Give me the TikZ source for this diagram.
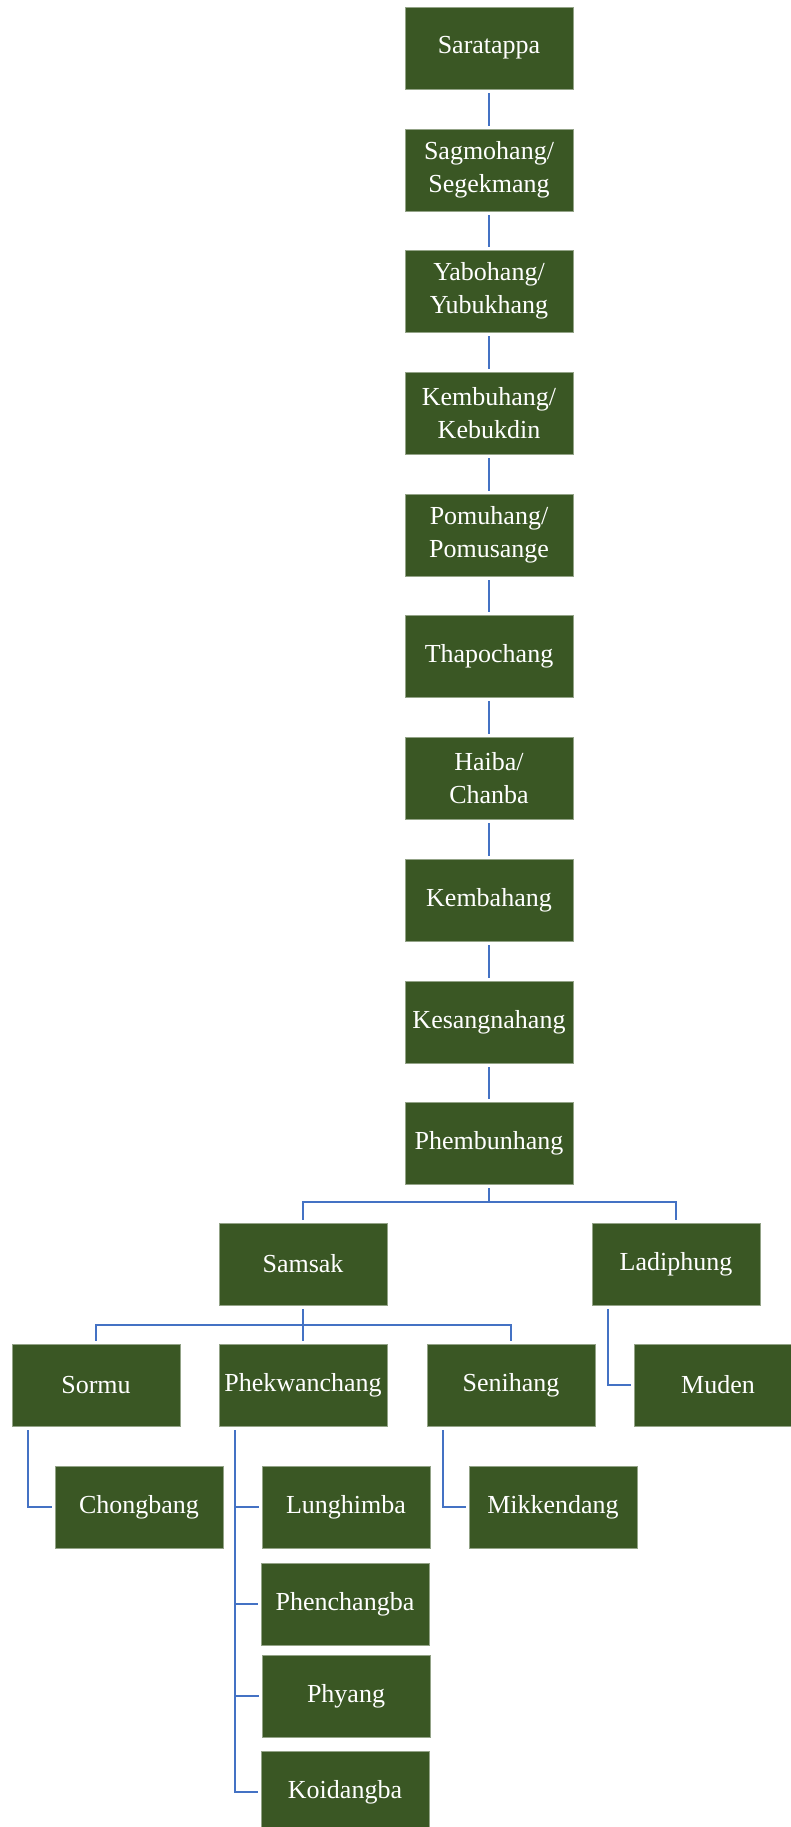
\documentclass[tikz,border=0pt]{standalone}
\usepackage{fontspec}
\setmainfont{Liberation Serif}
\definecolor{boxgreen}{RGB}{58,87,36}
\definecolor{linkblue}{RGB}{68,114,196}

\begin{document}
\begin{tikzpicture}[x=1pt,y=-1pt,
	clan/.style={draw=boxgreen!55!white, line width=0.6pt, fill=boxgreen, text=white,
		minimum width=168pt, minimum height=82pt, inner sep=2pt, align=center,
		font=\fontsize{26}{33}\selectfont},
	link/.style={draw=linkblue, line width=2.2pt, shorten <=4pt, shorten >=3pt}]
	\useasboundingbox (0,0) rectangle (791,1827);

	% main line
	\node[clan] (sara)  at (489,48)   {Saratappa};
	\node[clan] (sagmo) at (489,170)  {Sagmohang/\\Segekmang};
	\node[clan] (yabo)  at (489,291)  {Yabohang/\\Yubukhang};
	\node[clan] (kembu) at (489,413)  {Kembuhang/\\Kebukdin};
	\node[clan] (pomu)  at (489,535)  {Pomuhang/\\Pomusange};
	\node[clan] (thapo) at (489,656)  {Thapochang};
	\node[clan] (haiba) at (489,778)  {Haiba/\\Chanba};
	\node[clan] (kemba) at (489,900)  {Kembahang};
	\node[clan] (kesang) at (489,1022) {Kesangnahang};
	\node[clan] (phem)  at (489,1143) {Phembunhang};

	% branches
	\node[clan] (samsak) at (303,1264) {Samsak};
	\node[clan] (ladi)   at (676,1264) {Ladiphung};

	\node[clan] (sormu)  at (96,1385)  {Sormu};
	\node[clan] (phek)   at (303,1385) {Phekwanchang};
	\node[clan] (seni)   at (511,1385) {Senihang};
	\node[clan] (muden)  at (718,1385) {Muden};

	\node[clan] (chong)  at (139,1507) {Chongbang};
	\node[clan] (lung)   at (346,1507) {Lunghimba};
	\node[clan] (mikken) at (553,1507) {Mikkendang};
	\node[clan] (phen)   at (345,1604) {Phenchangba};
	\node[clan] (phy)    at (346,1696) {Phyang};
	\node[clan] (koi)    at (345,1792) {Koidangba};

	\foreach \a/\b in {sara/sagmo, sagmo/yabo, yabo/kembu, kembu/pomu, pomu/thapo,
		thapo/haiba, haiba/kemba, kemba/kesang, kesang/phem}
		\draw[link] (\a) -- (\b);

	\foreach \c in {samsak, ladi}
		\draw[link] (phem.south) -- ++(0,18) -| (\c.north);
	\foreach \c in {sormu, phek, seni}
		\draw[link] (samsak.south) -- ++(0,20) -| (\c.north);

	\draw[link] ([xshift=16]sormu.south west) |- (chong.west);
	\draw[link] ([xshift=16]seni.south west) |- (mikken.west);
	\draw[link] ([xshift=16]ladi.south west) |- (muden.west);
	\foreach \c in {lung, phen, phy, koi}
		\draw[link] ([xshift=16]phek.south west) |- (\c.west);

\end{tikzpicture}
\end{document}
